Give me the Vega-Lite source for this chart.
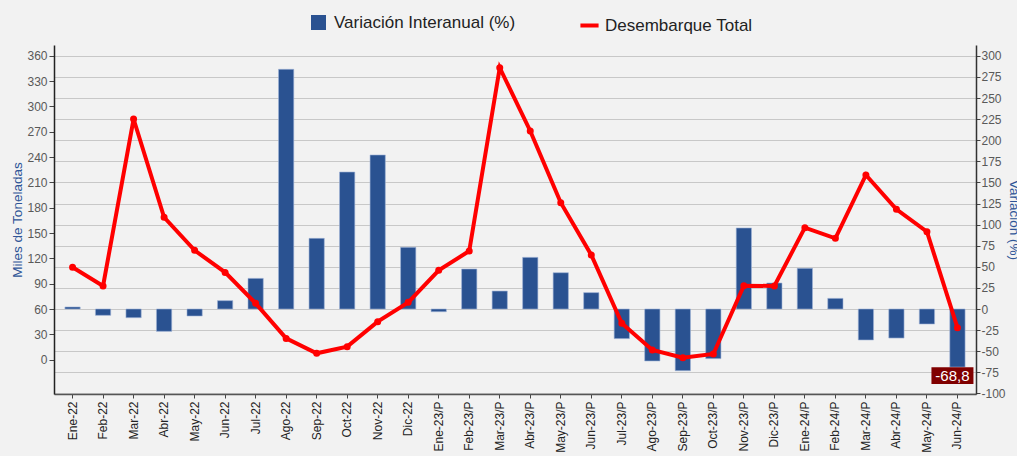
{
  "$schema": "https://vega.github.io/schema/vega-lite/v6.json",
  "width": 922,
  "height": 349,
  "autosize": {"type": "none"},
  "padding": {"left": 54, "top": 45, "right": 41, "bottom": 62},
  "background": "#f2f2f2",
  "config": {
    "view": {"stroke": null, "fill": "#f2f2f2"},
    "font": "Liberation Sans",
    "locale": {"number": {"decimal": ",", "thousands": ".", "grouping": [3], "currency": ["", ""], "minus": "-"}},
    "axis": {"labelFont": "Liberation Sans", "titleFont": "Liberation Sans", "labelFontSize": 12, "labelColor": "#595959", "titleFontWeight": "normal", "titleColor": "#2F5597", "titleFontSize": 13.5}
  },
  "data": {
    "values": [
      {"mes": "Ene-22", "desembarque": 109.4, "variacion": 2.4},
      {"mes": "Feb-22", "desembarque": 87.3, "variacion": -7.5},
      {"mes": "Mar-22", "desembarque": 285.1, "variacion": -10.3},
      {"mes": "Abr-22", "desembarque": 168.6, "variacion": -26.5},
      {"mes": "May-22", "desembarque": 129.5, "variacion": -8.3},
      {"mes": "Jun-22", "desembarque": 103.4, "variacion": 9.9},
      {"mes": "Jul-22", "desembarque": 66.7, "variacion": 36.3},
      {"mes": "Ago-22", "desembarque": 25.2, "variacion": 284},
      {"mes": "Sep-22", "desembarque": 7.5, "variacion": 83.7},
      {"mes": "Oct-22", "desembarque": 15.4, "variacion": 162.3},
      {"mes": "Nov-22", "desembarque": 45, "variacion": 182.5},
      {"mes": "Dic-22", "desembarque": 67.9, "variacion": 73.1},
      {"mes": "Ene-23/P", "desembarque": 105.8, "variacion": -3.2},
      {"mes": "Feb-23/P", "desembarque": 128.7, "variacion": 47.4},
      {"mes": "Mar-23/P", "desembarque": 345.9, "variacion": 21.3},
      {"mes": "Abr-23/P", "desembarque": 270.9, "variacion": 61.2},
      {"mes": "May-23/P", "desembarque": 186, "variacion": 43},
      {"mes": "Jun-23/P", "desembarque": 124, "variacion": 19.4},
      {"mes": "Jul-23/P", "desembarque": 43, "variacion": -35.1},
      {"mes": "Ago-23/P", "desembarque": 11.4, "variacion": -61.6},
      {"mes": "Sep-23/P", "desembarque": 2.3, "variacion": -73.1},
      {"mes": "Oct-23/P", "desembarque": 6.7, "variacion": -58.8},
      {"mes": "Nov-23/P", "desembarque": 87.6, "variacion": 96},
      {"mes": "Dic-23/P", "desembarque": 87.3, "variacion": 30.8},
      {"mes": "Ene-24/P", "desembarque": 156.4, "variacion": 48.2},
      {"mes": "Feb-24/P", "desembarque": 143.7, "variacion": 12.6},
      {"mes": "Mar-24/P", "desembarque": 218.8, "variacion": -36.7},
      {"mes": "Abr-24/P", "desembarque": 178.1, "variacion": -34.4},
      {"mes": "May-24/P", "desembarque": 151.6, "variacion": -17.8},
      {"mes": "Jun-24/P", "desembarque": 37.9, "variacion": -68.8}
    ]
  },
  "layer": [
    {
      "mark": {"type": "bar", "stroke": "#9fb3d6", "strokeWidth": 0.6},
      "encoding": {
        "x": {
          "field": "mes", "type": "ordinal", "sort": null,
          "scale": {"paddingInner": 0.5, "paddingOuter": 0.358},
          "axis": {"title": null, "labelAngle": -90, "labelColor": "#222222", "labelFontSize": 12, "tickSize": 4, "tickColor": "#444444", "domainColor": "#555555", "domainWidth": 1.5, "labelPadding": 3}
        },
        "y": {
          "field": "variacion", "type": "quantitative",
          "scale": {"domain": [-100.7, 312.8], "nice": false, "zero": false},
          "axis": {
            "orient": "right", "title": "Variación (%)",
            "values": [-100, -75, -50, -25, 0, 25, 50, 75, 100, 125, 150, 175, 200, 225, 250, 275, 300],
            "grid": true, "gridColor": "#c8c8c8", "gridWidth": 1.2,
            "tickSize": 4, "tickColor": "#444444", "domainColor": "#333333", "domainWidth": 1.5,
            "labelPadding": 1, "titlePadding": 1
          }
        },
        "fill": {
          "datum": "Variación Interanual (%)",
          "scale": {"range": ["#2A5291"]},
          "legend": {"orient": "none", "legendX": 256, "legendY": -31, "title": null, "symbolType": "square", "symbolSize": 225, "symbolStrokeWidth": 0, "labelFontSize": 17, "labelLimit": 0, "labelColor": "#222222", "labelFont": "Liberation Sans", "padding": 0, "labelOffset": 7}
        }
      }
    },
    {
      "mark": {"type": "line", "strokeWidth": 4, "point": {"filled": true, "fill": "#FF0000", "size": 25}},
      "encoding": {
        "x": {"field": "mes", "type": "ordinal", "sort": null},
        "y": {
          "field": "desembarque", "type": "quantitative",
          "scale": {"domain": [-40.7, 372.8], "nice": false, "zero": false},
          "axis": {
            "orient": "left", "title": "Miles de Toneladas",
            "values": [0, 30, 60, 90, 120, 150, 180, 210, 240, 270, 300, 330, 360],
            "grid": false, "tickSize": 5, "tickColor": "#444444", "domainColor": "#222222", "domainWidth": 1.5,
            "labelPadding": 2, "titlePadding": 2
          }
        },
        "stroke": {
          "datum": "Desembarque Total",
          "scale": {"range": ["#FF0000"]},
          "legend": {"orient": "none", "legendX": 524, "legendY": -31, "title": null, "symbolType": "stroke", "symbolSize": 330, "symbolStrokeWidth": 4, "labelFontSize": 17, "labelLimit": 0, "labelColor": "#222222", "labelFont": "Liberation Sans", "padding": 0, "labelOffset": 4}
        }
      }
    },
    {
      "transform": [{"filter": "datum.mes == 'Jun-24/P'"}],
      "mark": {"type": "point", "shape": "M-1,-0.4L1,-0.4L1,0.4L-1,0.4Z", "size": 1764, "filled": true, "fill": "#800000", "opacity": 1, "strokeWidth": 0, "xOffset": -5, "yOffset": 8.5},
      "encoding": {
        "x": {"field": "mes", "type": "ordinal", "sort": null},
        "y": {"field": "variacion", "type": "quantitative", "scale": {"domain": [-100.7, 312.8], "nice": false, "zero": false}, "axis": null}
      }
    },
    {
      "transform": [{"filter": "datum.mes == 'Jun-24/P'"}],
      "mark": {"type": "text", "color": "#ffffff", "fontSize": 15, "font": "Liberation Sans", "align": "center", "baseline": "middle", "xOffset": -5, "yOffset": 9},
      "encoding": {
        "x": {"field": "mes", "type": "ordinal", "sort": null},
        "y": {"field": "variacion", "type": "quantitative", "scale": {"domain": [-100.7, 312.8], "nice": false, "zero": false}, "axis": null},
        "text": {"field": "variacion", "type": "quantitative", "format": ".1f"}
      }
    }
  ],
  "resolve": {"scale": {"y": "independent"}}
}
